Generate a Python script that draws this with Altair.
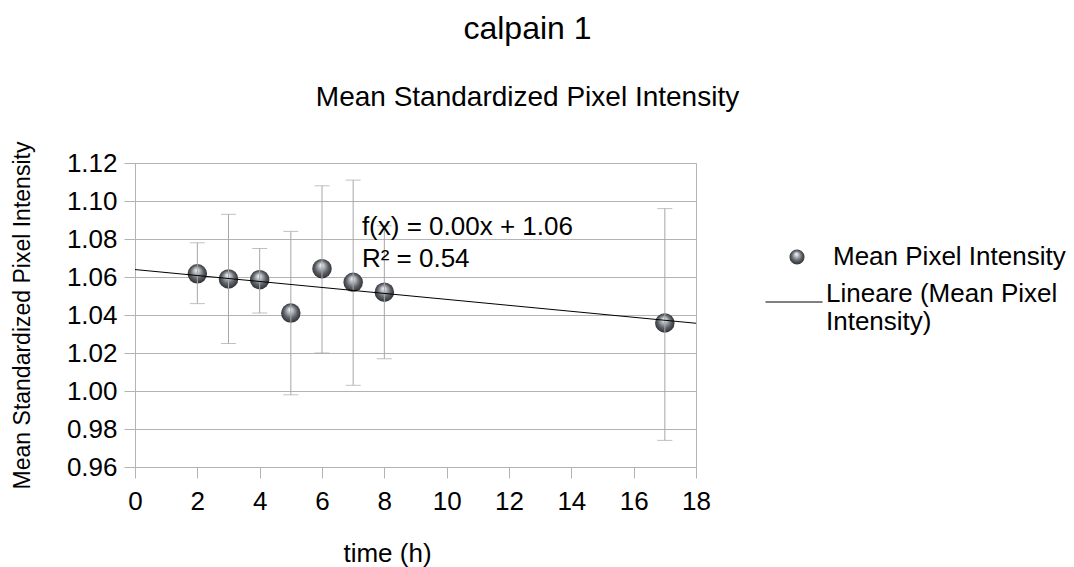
import altair as alt
import pandas as pd

# ---- data ----
time_h = [2, 3, 4, 5, 6, 7, 8, 17]
mean_int = [1.0617, 1.0590, 1.0586, 1.0410, 1.0644, 1.0572, 1.0520, 1.0358]
err_low = [1.046, 1.025, 1.041, 0.998, 1.020, 1.003, 1.017, 0.974]
err_high = [1.078, 1.093, 1.075, 1.084, 1.108, 1.111, 1.087, 1.096]

x_ticks = [0, 2, 4, 6, 8, 10, 12, 14, 16, 18]
y_ticks = [0.96, 0.98, 1.00, 1.02, 1.04, 1.06, 1.08, 1.10, 1.12]

eq_lines = ["f(x) = 0.00x + 1.06", "R² = 0.54"]
eq_x = [7.28, 7.28]
eq_y = [1.0821, 1.0653]

series_name = "Mean Pixel Intensity"
trend_name = "Lineare (Mean Pixel Intensity)"

df = pd.DataFrame({
    "time": time_h,
    "mean": mean_int,
    "lo": err_low,
    "hi": err_high,
    "series": [series_name] * len(time_h),
    "trend": [trend_name] * len(time_h),
})
eq_df = pd.DataFrame({"x": eq_x, "y": eq_y, "label": eq_lines})

FONT = "Liberation Sans"
GRID = "#b3b3b3"
ERR = "#a6a6a6"

x_scale = alt.Scale(domain=[0, 18], nice=False, zero=False)
y_scale = alt.Scale(domain=[0.96, 1.12], nice=False, zero=False)

x_axis = alt.Axis(
    values=x_ticks, tickCount=len(x_ticks), grid=False, title="time (h)",
    titleX=252, titleY=94, titleAlign="center", titleBaseline="alphabetic",
    titleFontSize=26, titleFontWeight="normal", titleColor="black",
    labelFontSize=26, labelColor="black", labelPadding=10, labelOverlap=False,
    labelFlush=False,
    tickSize=11, tickColor=GRID, domainColor=GRID,
)
y_axis = alt.Axis(
    values=y_ticks, tickCount=len(y_ticks), format=".2f", grid=True, gridColor=GRID,
    title="Mean Standardized Pixel Intensity",
    titleX=-113, titleY=152, titleAngle=270, titleAlign="center",
    titleBaseline="middle", titleFontSize=23, titleFontWeight="normal",
    titleColor="black",
    labelFontSize=26, labelColor="black", labelPadding=7, labelOverlap=False,
    labelFlush=False,
    tickSize=11, tickColor=GRID, domainColor=GRID,
)

sphere = alt.RadialGradient(
    gradient="radial",
    x1=0.46, y1=0.30, r1=0.0,
    x2=0.5, y2=0.5, r2=0.55,
    stops=[
        alt.GradientStop(color="#ffffff", offset=0.0),
        alt.GradientStop(color="#b9bec4", offset=0.25),
        alt.GradientStop(color="#5d6167", offset=0.62),
        alt.GradientStop(color="#26272a", offset=1.0),
    ],
)

base = alt.Chart(df)

points = base.mark_point(
    filled=True, size=380, opacity=1, fill=sphere, strokeWidth=0
).encode(
    x=alt.X("time:Q", scale=x_scale, axis=x_axis),
    y=alt.Y("mean:Q", scale=y_scale, axis=y_axis),
    shape=alt.Shape(
        "series:N",
        scale=alt.Scale(range=["circle"]),
        legend=alt.Legend(
            orient="none", legendX=649, legendY=81, title=None, padding=0,
            symbolSize=227, symbolFillColor="#5d6167", symbolStrokeWidth=0,
            labelFontSize=26, labelColor="black", labelOffset=23,
            labelBaseline="middle", labelLimit=400,
        ),
    ),
)

err_rule = base.mark_rule(color=ERR, strokeWidth=1).encode(
    x=alt.X("time:Q", scale=x_scale),
    y=alt.Y("lo:Q", scale=y_scale),
    y2="hi:Q",
)
cap_lo = base.mark_tick(orient="horizontal", size=15, thickness=1, color=ERR).encode(
    x=alt.X("time:Q", scale=x_scale),
    y=alt.Y("lo:Q", scale=y_scale),
)
cap_hi = base.mark_tick(orient="horizontal", size=15, thickness=1, color=ERR).encode(
    x=alt.X("time:Q", scale=x_scale),
    y=alt.Y("hi:Q", scale=y_scale),
)

trend = base.transform_regression(
    "time", "mean", extent=[0, 18], groupby=["trend"]
).mark_line(strokeWidth=1).encode(
    x=alt.X("time:Q", scale=x_scale),
    y=alt.Y("mean:Q", scale=y_scale),
    color=alt.Color(
        "trend:N",
        scale=alt.Scale(range=["black"]),
        legend=alt.Legend(
            orient="none", legendX=630, legendY=110, title=None, padding=0,
            symbolType="stroke", symbolSize=3249, symbolStrokeWidth=1,
            labelFontSize=26, labelColor="black", labelOffset=3,
            labelBaseline="alphabetic", labelLimit=400,
            labelExpr="['Lineare (Mean Pixel', 'Intensity)']",
        ),
    ),
)

eq = alt.Chart(eq_df).mark_text(
    align="left", baseline="alphabetic", fontSize=26, color="black", font=FONT
).encode(
    x=alt.X("x:Q", scale=x_scale),
    y=alt.Y("y:Q", scale=y_scale),
    text="label:N",
)

chart = alt.layer(points, err_rule, cap_lo, cap_hi, trend, eq).properties(
    width=561,
    height=304,
    title=alt.TitleParams(
        text="calpain 1",
        subtitle="Mean Standardized Pixel Intensity",
        anchor="middle", dx=112, offset=28,
        fontSize=32, fontWeight="normal", color="black", font=FONT,
        subtitleFontSize=28, subtitleColor="black", subtitleFont=FONT,
        subtitlePadding=38,
    ),
    autosize=alt.AutoSizeParams(type="none"),
    padding={"left": 135, "top": 163, "right": 378, "bottom": 100},
).configure(font=FONT, background="white").configure_view(stroke=GRID)

chart.save("out.html", embed_options={"renderer": "svg", "actions": False})
